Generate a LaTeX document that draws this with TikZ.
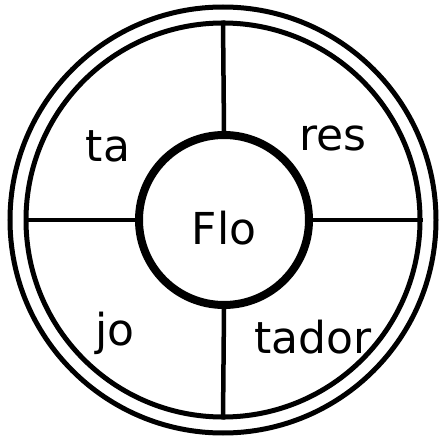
\documentclass[tikz,border=0pt]{standalone}
\usepackage{fontspec}
\setmainfont{DejaVu Sans}
\usetikzlibrary{positioning}

\begin{document}
\begin{tikzpicture}[x=1pt, y=1pt,
  ring/.style={circle, draw=black, line width=5pt, inner sep=0pt},
  hub/.style={circle, draw=black, line width=8pt, minimum size=170pt, inner sep=0pt,
    text height=48pt, text depth=0pt, font=\fontsize{44}{48}\selectfont},
  spoke/.style={draw=black, line width=4.5pt},
  part/.style={font=\fontsize{44}{48}\selectfont}
]
  \useasboundingbox (0,0) rectangle (442,440);
  \node[ring, minimum size=426pt] (outer) at (223,220) {};
  \node[ring, minimum size=394pt] (inner) at (223,220) {};
  \node[hub] (flo) at (224,220) {Flo};
  \foreach \side in {north, south, east, west}{
    \draw[spoke] (flo.\side) -- (inner.\side);
  }
  \node[part] (ta) at (108,294) {ta};
  \node[part] (res) at (333,302) {res};
  \node[part] (jo) at (115,107) {jo};
  \node[part] (tador) at (313,103) {tador};
\end{tikzpicture}
\end{document}
